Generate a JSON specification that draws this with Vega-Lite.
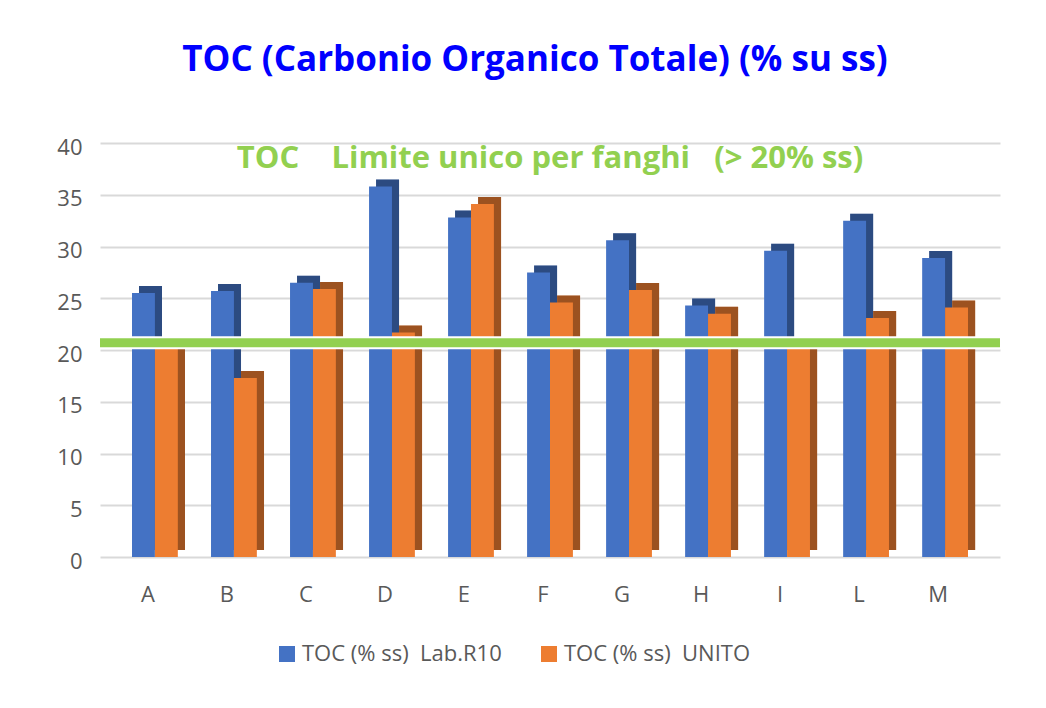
{
  "$schema": "https://vega.github.io/schema/vega-lite/v6.json",
  "width": 900,
  "height": 414,
  "autosize": {"type": "none"},
  "padding": {"left": 100, "top": 143, "right": 46, "bottom": 151},
  "background": "white",
  "title": {
    "text": "TOC (Carbonio Organico Totale) (% su ss)",
    "font": "Open Sans",
    "fontSize": 35,
    "fontWeight": "bold",
    "color": "#0000ff",
    "anchor": "middle",
    "dx": -15,
    "offset": 58
  },
  "config": {
    "view": {"stroke": null},
    "axis": {"labelFont": "Open Sans", "labelColor": "#595959", "labelFontSize": 22}
  },
  "data": {
    "values": [
      {"cat": "A", "series": "TOC (% ss)\u00a0\u00a0Lab.R10", "value": 25.5},
      {"cat": "A", "series": "TOC (% ss)\u00a0\u00a0UNITO", "value": 20.5},
      {"cat": "B", "series": "TOC (% ss)\u00a0\u00a0Lab.R10", "value": 25.7},
      {"cat": "B", "series": "TOC (% ss)\u00a0\u00a0UNITO", "value": 17.3},
      {"cat": "C", "series": "TOC (% ss)\u00a0\u00a0Lab.R10", "value": 26.5},
      {"cat": "C", "series": "TOC (% ss)\u00a0\u00a0UNITO", "value": 25.9},
      {"cat": "D", "series": "TOC (% ss)\u00a0\u00a0Lab.R10", "value": 35.8},
      {"cat": "D", "series": "TOC (% ss)\u00a0\u00a0UNITO", "value": 21.7},
      {"cat": "E", "series": "TOC (% ss)\u00a0\u00a0Lab.R10", "value": 32.8},
      {"cat": "E", "series": "TOC (% ss)\u00a0\u00a0UNITO", "value": 34.1},
      {"cat": "F", "series": "TOC (% ss)\u00a0\u00a0Lab.R10", "value": 27.5},
      {"cat": "F", "series": "TOC (% ss)\u00a0\u00a0UNITO", "value": 24.6},
      {"cat": "G", "series": "TOC (% ss)\u00a0\u00a0Lab.R10", "value": 30.6},
      {"cat": "G", "series": "TOC (% ss)\u00a0\u00a0UNITO", "value": 25.8},
      {"cat": "H", "series": "TOC (% ss)\u00a0\u00a0Lab.R10", "value": 24.3},
      {"cat": "H", "series": "TOC (% ss)\u00a0\u00a0UNITO", "value": 23.5},
      {"cat": "I", "series": "TOC (% ss)\u00a0\u00a0Lab.R10", "value": 29.6},
      {"cat": "I", "series": "TOC (% ss)\u00a0\u00a0UNITO", "value": 20.5},
      {"cat": "L", "series": "TOC (% ss)\u00a0\u00a0Lab.R10", "value": 32.5},
      {"cat": "L", "series": "TOC (% ss)\u00a0\u00a0UNITO", "value": 23.1},
      {"cat": "M", "series": "TOC (% ss)\u00a0\u00a0Lab.R10", "value": 28.9},
      {"cat": "M", "series": "TOC (% ss)\u00a0\u00a0UNITO", "value": 24.1}
    ]
  },
  "encoding": {
    "x": {
      "field": "cat",
      "type": "nominal",
      "sort": null,
      "scale": {"paddingInner": 0.42, "paddingOuter": 0.405},
      "axis": {"title": null, "ticks": false, "domain": false, "labelAngle": 0, "labelPadding": 27, "labelOffset": -7}
    },
    "y": {
      "field": "value",
      "type": "quantitative",
      "scale": {"domain": [0, 40], "nice": false},
      "axis": {"title": null, "values": [0, 5, 10, 15, 20, 25, 30, 35, 40], "ticks": false, "domain": false, "labelPadding": 18, "labelOffset": 4, "gridColor": "#d9d9d9", "gridWidth": 2}
    },
    "color": {
      "field": "series",
      "type": "nominal",
      "sort": null,
      "scale": {"range": ["#4472c4", "#ed7d31"]},
      "legend": {
        "title": null,
        "orient": "none",
        "direction": "horizontal",
        "legendX": 176,
        "legendY": 500,
        "symbolType": "square",
        "symbolSize": 256,
        "symbolStrokeWidth": 0,
        "symbolOpacity": 1,
        "labelFont": "Open Sans",
        "labelFontSize": 22,
        "labelLimit": 400,
        "labelColor": "#595959",
        "labelOffset": 4,
        "columnPadding": 36
      }
    }
  },
  "resolve": {"scale": {"xOffset": "independent"}},
  "layer": [
    {
      "mark": {"type": "bar", "yOffset": -7},
      "encoding": {
        "xOffset": {"field": "series", "type": "nominal", "sort": null, "scale": {"range": [7, 53]}}
      }
    },
    {
      "mark": {"type": "bar", "yOffset": -7, "color": "black", "opacity": 0.34},
      "encoding": {
        "color": null,
        "xOffset": {"field": "series", "type": "nominal", "sort": null, "scale": {"range": [7, 53]}}
      }
    },
    {
      "mark": {"type": "bar"},
      "encoding": {
        "xOffset": {"field": "series", "type": "nominal", "sort": null}
      }
    },
    {
      "data": {"values": [{"limit": 20.7}]},
      "mark": {"type": "rule", "color": "white", "strokeWidth": 13},
      "encoding": {"y": {"field": "limit", "type": "quantitative"}, "x": null, "color": null}
    },
    {
      "data": {"values": [{"limit": 20.7}]},
      "mark": {"type": "rule", "color": "#92d050", "strokeWidth": 9},
      "encoding": {"y": {"field": "limit", "type": "quantitative"}, "x": null, "color": null}
    },
    {
      "data": {"values": [{"label": "TOC\u00a0\u00a0\u00a0\u00a0Limite unico per fanghi\u00a0\u00a0\u00a0(> 20% ss)", "pos": 38.5}]},
      "mark": {"type": "text", "font": "Open Sans", "fontSize": 31, "fontWeight": "bold", "color": "#92d050", "baseline": "middle", "align": "center"},
      "encoding": {"y": {"field": "pos", "type": "quantitative"}, "text": {"field": "label"}, "x": null, "color": null}
    }
  ]
}
